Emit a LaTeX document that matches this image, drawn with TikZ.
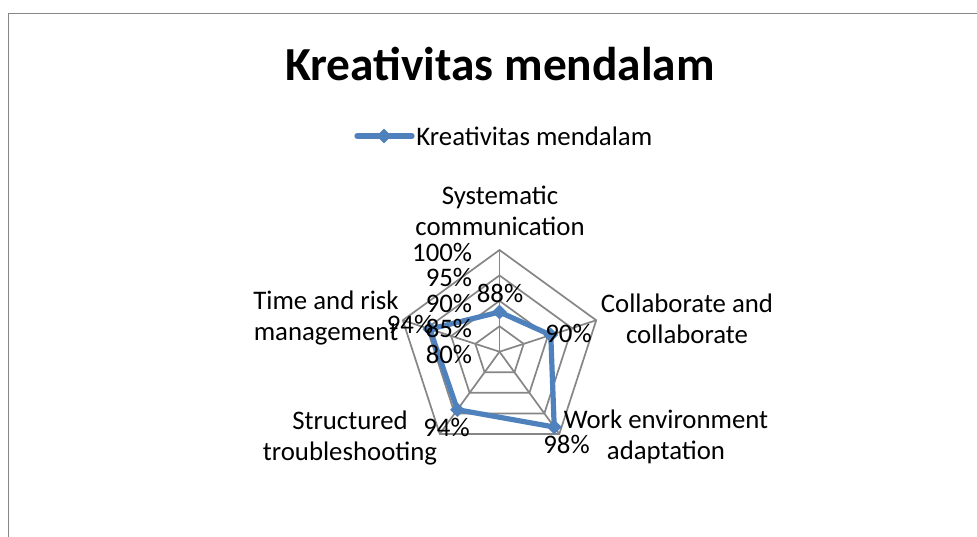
\documentclass[tikz,border=0pt]{standalone}
\usepackage{fontspec}
\setmainfont{Carlito}
\usetikzlibrary{shapes.geometric}
\definecolor{serieblue}{HTML}{4F81BD}
\definecolor{gridgray}{HTML}{868686}
\definecolor{framegray}{HTML}{878787}
\begin{document}
\begin{tikzpicture}[x=0.5pt,y=-0.5pt,
  lbl/.style={font=\fontsize{13.4}{15.6}\selectfont, inner sep=0pt, align=center},
  gridline/.style={draw=gridgray, line width=0.85pt, line join=miter},
  serie/.style={draw=serieblue, line width=2.6pt, line join=round, line cap=round},
  mk/.style={diamond, fill=serieblue, draw=none, minimum width=7.5pt, minimum height=7.5pt, inner sep=0pt}]
\useasboundingbox (0,0) rectangle (977,536);
\fill[white] (0,0) rectangle (977,536);
\draw[framegray, line width=0.9pt] (8.5,545) -- (8.5,13.5) -- (985,13.5);

% title
\node[font=\fontsize{23.7}{28}\selectfont\bfseries, inner sep=0pt] (title) at (500,64) {Kreativitas mendalam};

% legend
\coordinate (lgA) at (357,136);
\coordinate (lgB) at (412,136);
\draw[serie] (lgA) -- (lgB);
\node[mk] (lgmk) at (384,136) {};
\node[lbl, anchor=west] (lgtxt) at (416,136) {Kreativitas mendalam};

% radar
\begin{scope}[shift={(499.5,351.7)}, yscale=-1]
  \foreach \r in {25.43,50.85,76.28,101.7}{
    \draw[gridline] (90:\r) -- (18:\r) -- (-54:\r) -- (-126:\r) -- (162:\r) -- cycle;
  }
  \foreach \a in {90,18,-54,-126,162}{
    \draw[gridline] (0,0) -- (\a:101.7);
  }
  \coordinate (p1) at (90:39.7);
  \coordinate (p2) at (18:53.9);
  \coordinate (p3) at (-54:93.1);
  \coordinate (p4) at (-126:71.7);
  \coordinate (p5) at (162:73.2);
  \draw[serie] (p1) -- (p2) -- (p3) -- (p4) -- (p5) -- cycle;
  \foreach \p in {p1,p2,p3,p4,p5}{
    \node[mk] at (\p) {};
  }
\end{scope}

% axis tick labels
\node[lbl, anchor=east] (t100) at (472.5,252) {100\%};
\node[lbl, anchor=east] (t95) at (472.5,277.5) {95\%};
\node[lbl, anchor=east] (t90) at (472.5,303) {90\%};
\node[lbl, anchor=east] (t85) at (472.5,328.5) {85\%};
\node[lbl, anchor=east] (t80) at (472.5,354) {80\%};

% category labels
\node[lbl] (c1) at (500,211) {Systematic\\communication};
\node[lbl] (c2) at (687,319) {Collaborate and\\collaborate};
\node[lbl] (c3) at (666,437) {Work environment\\adaptation};
\node[lbl] (c4) at (350,438) {Structured\\troubleshooting};
\node[lbl] (c5) at (326,318) {Time and risk\\management};

% data labels
\node[lbl] (d1) at (500,293.5) {88\%};
\node[lbl] (d2) at (568.5,333) {90\%};
\node[lbl] (d3) at (566.5,444) {98\%};
\node[lbl] (d4) at (446.5,427.5) {94\%};
\node[lbl] (d5) at (410,324) {94\%};
\end{tikzpicture}
\end{document}
